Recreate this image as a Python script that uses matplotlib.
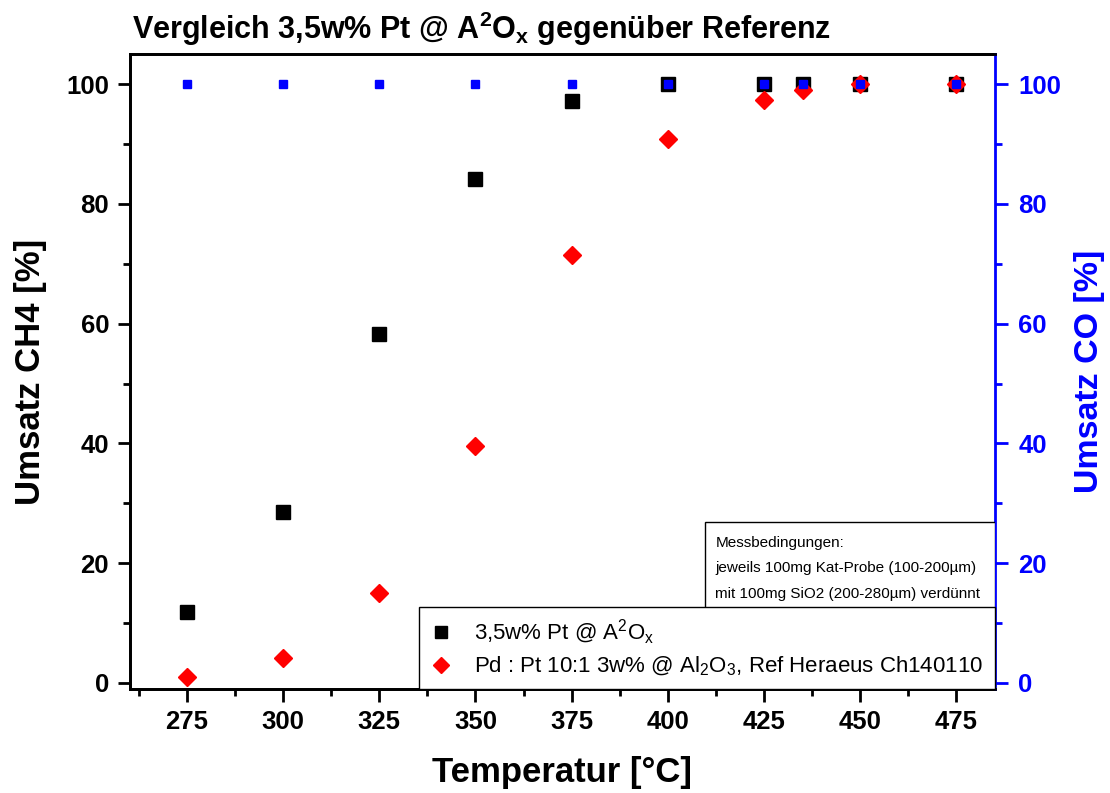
import matplotlib.pyplot as plt
from matplotlib.ticker import MultipleLocator
from matplotlib.patches import Rectangle

plt.rcParams['font.family'] = ['Liberation Sans', 'DejaVu Sans']
plt.rcParams['mathtext.fontset'] = 'custom'
plt.rcParams['mathtext.rm'] = 'Liberation Sans'
plt.rcParams['mathtext.bf'] = 'Liberation Sans:bold'

# Temperatur [°C]
temps = [275, 300, 325, 350, 375, 400, 425, 435, 450, 475]
# Umsatz CH4 [%]
ch4_pt = [11.8, 28.5, 58.2, 84.1, 97.2, 100, 100, 100, 100, 100]
ch4_ref = [1.0, 4.2, 15.0, 39.6, 71.5, 90.8, 97.3, 99.0, 100, 100]
# Umsatz CO [%]
co_pt = [100, 100, 100, 100, 100, 100, 100, 100, 100, 100]

label_pt = r'3,5w% Pt @ A$^2$O$_\mathrm{x}$'
label_ref = r'Pd : Pt 10:1 3w% @ Al$_2$O$_3$, Ref Heraeus Ch140110'
notes = ['Messbedingungen:',
         'jeweils 100mg Kat-Probe (100-200µm)',
         'mit 100mg SiO2 (200-280µm) verdünnt']

fig = plt.figure(figsize=(11.1, 7.93), dpi=100)
ax = fig.add_axes([0.117, 0.131, 0.779, 0.801])
ax2 = ax.twinx()

ax.plot(temps, ch4_pt, 's', color='black', ms=10, label=label_pt)
ax.plot(temps, ch4_ref, 'D', color='red', ms=9, mec='red', label=label_ref)
ax2.plot(temps, co_pt, 's', color='blue', ms=6)

ax.set_xlim(260.2, 484.9)
ax.set_ylim(-1.04, 105.06)
ax2.set_ylim(-1.04, 105.06)

ax.xaxis.set_major_locator(MultipleLocator(25))
ax.xaxis.set_minor_locator(MultipleLocator(12.5))
ax.yaxis.set_major_locator(MultipleLocator(20))
ax.yaxis.set_minor_locator(MultipleLocator(10))
ax2.yaxis.set_major_locator(MultipleLocator(20))
ax2.yaxis.set_minor_locator(MultipleLocator(10))

ax.tick_params(axis='both', which='major', direction='out', length=9, width=2,
               labelsize=18.5, pad=6)
ax.tick_params(axis='both', which='minor', direction='out', length=5, width=2)
ax.tick_params(axis='y', which='both', right=False)
ax2.tick_params(axis='y', which='major', direction='out', length=9, width=2,
                labelsize=18.5, colors='blue', pad=8)
ax2.tick_params(axis='y', which='minor', direction='out', length=5, width=2,
                colors='blue')
for lab in ax.get_xticklabels() + ax.get_yticklabels() + ax2.get_yticklabels():
    lab.set_fontweight('bold')

for sp in ['left', 'bottom', 'top']:
    ax.spines[sp].set_linewidth(2)
    ax2.spines[sp].set_linewidth(2)
ax2.spines['right'].set_color('blue')
ax2.spines['right'].set_linewidth(2)
ax.spines['right'].set_visible(False)

ax.set_xlabel('Temperatur [°C]', fontsize=25, fontweight='bold', labelpad=16)
ax.set_ylabel('Umsatz CH4 [%]', fontsize=25, fontweight='bold', labelpad=14)
ax2.set_ylabel('Umsatz CO [%]', fontsize=24.5, fontweight='bold', color='blue',
               labelpad=9)

fig.text(0.119, 0.964,
         r'Vergleich 3,5w% Pt @ A$\mathbf{^2}$O$\mathbf{_x}$ gegenüber Referenz',
         fontsize=22, fontweight='bold', ha='left', va='center')

# box with measurement conditions (partly behind the legend)
ax2.add_patch(Rectangle((0.665, 0.10), 0.335, 0.163, transform=ax.transAxes,
                        fc='white', ec='black', lw=1, zorder=4))
for i, line in enumerate(notes):
    ax2.text(0.677, 0.230 - i * 0.040, line, transform=ax.transAxes,
             fontsize=11, ha='left', va='center', zorder=4)

leg = ax2.legend(*ax.get_legend_handles_labels(), loc='lower right',
                 bbox_to_anchor=(1.0, 0.0), fontsize=16, frameon=True,
                 fancybox=False, edgecolor='black', framealpha=1,
                 borderpad=0.5, handlelength=1.0, handletextpad=1.0,
                 labelspacing=0.35, borderaxespad=0, markerscale=0.9)
leg.get_frame().set_linewidth(1)
leg.set_zorder(5)

fig.savefig('out.png', dpi=100)
